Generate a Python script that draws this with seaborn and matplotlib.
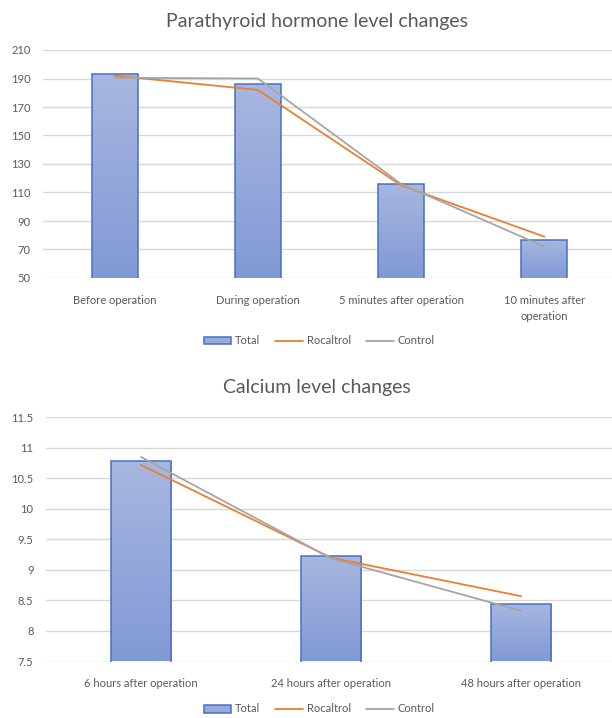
import numpy as np
import pandas as pd
import matplotlib
matplotlib.use("Agg")
import matplotlib.pyplot as plt
from matplotlib.colors import LinearSegmentedColormap
from matplotlib.patches import Patch
from matplotlib.lines import Line2D
import seaborn as sns

# --- data ---
pth_cats = ["Before operation", "During operation", "5 minutes after operation",
            "10 minutes after\noperation"]
pth_total = [193, 186, 116, 77]
pth_rocaltrol = [192, 182, 115, 79]
pth_control = [190.5, 190, 116, 72]

ca_cats = ["6 hours after operation", "24 hours after operation", "48 hours after operation"]
ca_total = [10.79, 9.22, 8.45]
ca_rocaltrol = [10.72, 9.2, 8.57]
ca_control = [10.85, 9.19, 8.33]

BAR_EDGE = "#4472C4"
ORANGE = "#ED7D31"
GRAY = "#A5A5A5"
TXT = "#595959"
GRID = "#D9D9D9"

sns.set_style("white")
plt.rcParams["font.family"] = ["Lato", "DejaVu Sans"]

grad = LinearSegmentedColormap.from_list("bar", ["#8299D6", "#A8B7E0"])


def draw_panel(ax, cats, total, roc, ctrl, ylim, yticks, ylab_fmt):
    sns.barplot(x=cats, y=total, ax=ax, width=0.32, color="#98A9DC",
                edgecolor=BAR_EDGE, linewidth=1.1, zorder=2)
    # gradient fill like the original
    for p in list(ax.patches):
        x0, y0 = p.get_x(), p.get_y()
        w, h = p.get_width(), p.get_height()
        im = ax.imshow(np.linspace(0, 1, 100).reshape(-1, 1), cmap=grad,
                       extent=[x0, x0 + w, max(y0, ylim[0]), y0 + h],
                       origin="lower", aspect="auto", zorder=2)
        im.set_clip_path(p)
        p.set_facecolor("none")
        p.set_zorder(3)
    xs = np.arange(len(cats))
    lines = pd.DataFrame({
        "x": np.concatenate([xs, xs]),
        "y": roc + ctrl,
        "series": ["Rocaltrol"] * len(cats) + ["Control"] * len(cats),
    })
    sns.lineplot(data=lines, x="x", y="y", hue="series",
                 palette={"Rocaltrol": ORANGE, "Control": GRAY},
                 linewidth=1.3, ax=ax, legend=False, zorder=4)
    ax.set_xlim(-0.5, len(cats) - 0.5)
    ax.set_ylim(*ylim)
    ax.set_yticks(yticks)
    ax.set_yticklabels([ylab_fmt(v) for v in yticks])
    ax.set_xticks(xs)
    ax.set_xticklabels(cats)
    ax.set_xlabel("")
    ax.set_ylabel("")
    ax.set_axisbelow(True)
    ax.grid(axis="y", color=GRID, linewidth=1.0)
    ax.grid(axis="x", visible=False)
    for s in ax.spines.values():
        s.set_visible(False)
    ax.tick_params(axis="both", length=0, labelsize=8, labelcolor=TXT)
    ax.tick_params(axis="x", pad=12)
    ax.tick_params(axis="y", pad=9)
    for t in ax.get_xticklabels():
        t.set_linespacing(1.6)


fig = plt.figure(figsize=(6.12, 7.18), dpi=100)
ax1 = fig.add_axes([43 / 612, 1 - 278 / 718, 573 / 612, 228 / 718])
ax2 = fig.add_axes([46 / 612, 1 - 661.5 / 718, 570 / 612, 244.2 / 718])

draw_panel(ax1, pth_cats, pth_total, pth_rocaltrol, pth_control,
           (50, 210), np.arange(50, 211, 20), lambda v: f"{v:d}")
draw_panel(ax2, ca_cats, ca_total, ca_rocaltrol, ca_control,
           (7.5, 11.5), np.arange(7.5, 11.51, 0.5), lambda v: f"{v:g}")

fig.text(317 / 612, 1 - 21 / 718, "Parathyroid hormone level changes",
         ha="center", va="center", fontsize=14, color=TXT)
fig.text(317 / 612, 1 - 388 / 718, "Calcium level changes",
         ha="center", va="center", fontsize=14, color=TXT)

handles = [Patch(facecolor="#98A9DC", edgecolor=BAR_EDGE, linewidth=1.1),
           Line2D([], [], color=ORANGE, linewidth=1.3),
           Line2D([], [], color=GRAY, linewidth=1.3)]
labels = ["Total", "Rocaltrol", "Control"]
for yc in (341, 709):
    fig.legend(handles, labels, loc="center", bbox_to_anchor=(319 / 612, 1 - yc / 718),
               ncol=3, frameon=False, fontsize=8, labelcolor=TXT,
               handlelength=2.5, handleheight=0.7, handletextpad=0.3,
               columnspacing=1.4)

fig.savefig("out.png", dpi=100)
